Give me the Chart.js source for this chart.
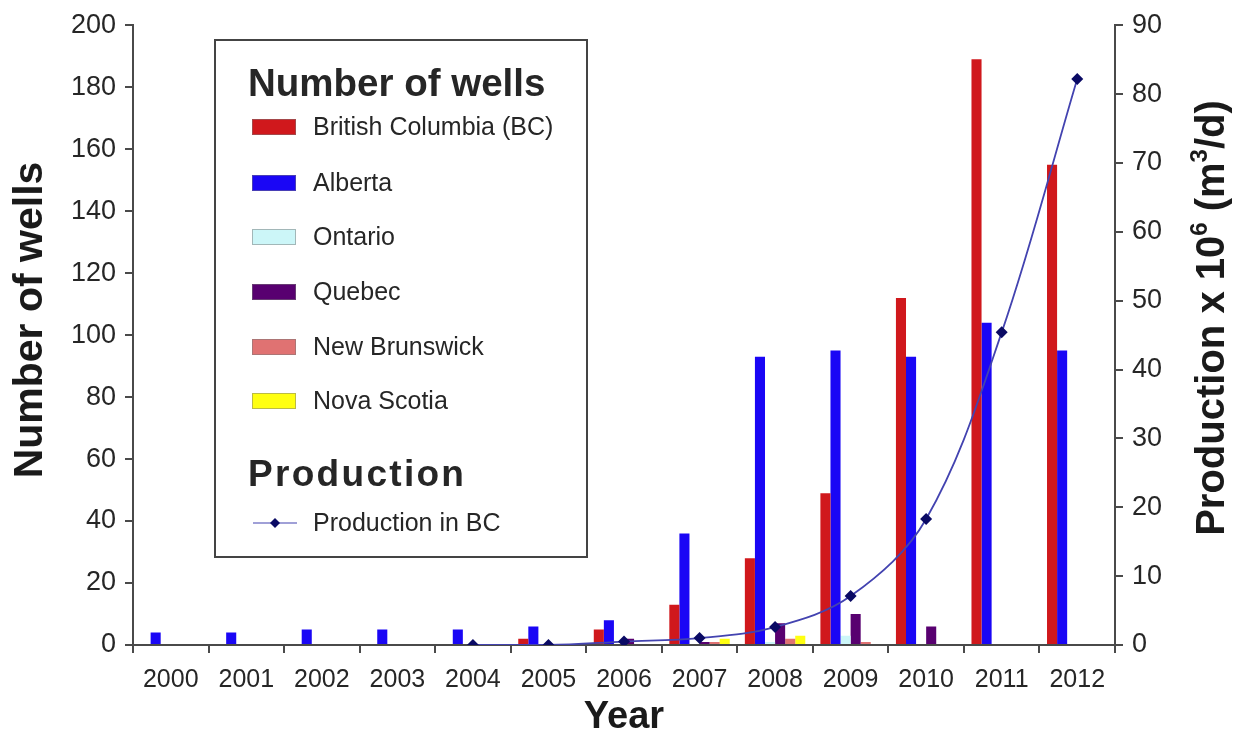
<!DOCTYPE html>
<html>
<head>
<meta charset="utf-8">
<script src="https://cdn.jsdelivr.net/npm/chart.js@4/dist/chart.umd.min.js"></script>
<style>
  html, body { margin: 0; padding: 0; background: #ffffff; }
  #wrap { width: 1238px; height: 740px; }
</style>
</head>
<body>
<div id="wrap"><canvas id="c" width="1238" height="740"></canvas></div>
<script>
// ---- Data ----
const years = ['2000','2001','2002','2003','2004','2005','2006','2007','2008','2009','2010','2011','2012'];
const britishColumbia = [0, 0, 0, 0, 0, 2, 5, 13, 28, 49, 112, 189, 155];
const alberta         = [4, 4, 5, 5, 5, 6, 8, 36, 93, 95, 93, 104, 95];
const ontario         = [0, 0, 0, 0, 0, 0, 0, 0, 1, 3, 0, 0, 0];
const quebec          = [0, 0, 0, 0, 0, 0, 2, 1, 7, 10, 6, 0, 0];
const newBrunswick    = [0, 0, 0, 0, 0, 0, 0, 1, 2, 1, 0, 0, 0];
const novaScotia      = [0, 0, 0, 0, 0, 0, 0, 2, 3, 0, 0, 0, 0];
const productionBC    = [null, null, null, null, 0, 0, 0.5, 1, 2.6, 7.1, 18.3, 45.4, 82.2];
const wellTicks = [0, 20, 40, 60, 80, 100, 120, 140, 160, 180, 200];
const prodTicks = [0, 10, 20, 30, 40, 50, 60, 70, 80, 90];

const titles = { x: 'Year', y: 'Number of wells', y2: ['Production x 10', '6', ' (m', '3', '/d)'] };

const colors = {
  bc: '#d0181c', ab: '#1a06f5', on: '#ccf6f8', qc: '#580070', nb: '#e07272', ns: '#ffff10',
  line: '#4343b0', marker: '#0a0a64'
};

const FONT = "'Liberation Sans', Arial, Helvetica, sans-serif";
const AXIS = '#4a4a4a';
const TEXT = '#262626';

function barSet(label, data, color) {
  return { type: 'bar', label, data, backgroundColor: color, borderColor: color,
           borderWidth: 0, yAxisID: 'y', order: 1,
           categoryPercentage: 0.8, barPercentage: 1.0 };
}

const titlePlugin = {
  id: 'axisTitles',
  afterDraw(chart) {
    const ctx = chart.ctx;
    const a = chart.chartArea;
    ctx.save();
    ctx.fillStyle = '#1a1a1a';
    // x title
    ctx.font = 'bold 38px ' + FONT;
    ctx.textAlign = 'center';
    ctx.textBaseline = 'middle';
    ctx.fillText(titles.x, (a.left + a.right) / 2, 718);
    // left title
    ctx.save();
    ctx.translate(31, 320);
    ctx.rotate(-Math.PI / 2);
    ctx.font = 'bold 41px ' + FONT;
    ctx.fillText(titles.y, 0, 0);
    ctx.restore();
    // right title with superscripts
    ctx.save();
    ctx.translate(1213, 318);
    ctx.rotate(-Math.PI / 2);
    ctx.textAlign = 'left';
    ctx.textBaseline = 'middle';
    const big = 'bold 40px ' + FONT, sup = 'bold 24px ' + FONT;
    const parts = titles.y2.map((t, i) => ({ t, f: i % 2 === 1 ? sup : big, raise: i % 2 === 1 ? -13 : 0 }));
    let total = 0;
    parts.forEach(p => { ctx.font = p.f; p.w = ctx.measureText(p.t).width; total += p.w; });
    let x = -total / 2;
    parts.forEach(p => { ctx.font = p.f; ctx.fillText(p.t, x, p.raise); x += p.w; });
    ctx.restore();
    ctx.restore();
  }
};

const legendPlugin = {
  id: 'boxLegend',
  afterDatasetsDraw(chart) {
    const ctx = chart.ctx;
    ctx.save();
    ctx.fillStyle = '#ffffff';
    ctx.fillRect(215, 40, 372, 517);
    ctx.strokeStyle = '#444444';
    ctx.lineWidth = 2;
    ctx.strokeRect(215, 40, 372, 517);

    ctx.fillStyle = TEXT;
    ctx.textAlign = 'left';
    ctx.textBaseline = 'alphabetic';
    ctx.font = 'bold 38.5px ' + FONT;
    ctx.fillText('Number of wells', 248, 96);

    const rows = [127, 183, 237, 292, 347, 401];
    const bars = chart.data.datasets.filter(d => d.type === 'bar');
    ctx.font = '25px ' + FONT;
    ctx.textBaseline = 'middle';
    bars.forEach((ds, i) => {
      const y = rows[i];
      ctx.fillStyle = ds.backgroundColor;
      ctx.fillRect(252, y - 8, 44, 16);
      ctx.strokeStyle = 'rgba(120,120,120,0.5)';
      ctx.lineWidth = 1;
      ctx.strokeRect(252.5, y - 7.5, 43, 15);
      ctx.fillStyle = TEXT;
      ctx.fillText(ds.label, 313, y + 1);
    });

    ctx.textBaseline = 'alphabetic';
    ctx.font = 'bold 37px ' + FONT;
    try { ctx.letterSpacing = '2.3px'; } catch (e) {}
    ctx.fillText('Production', 248, 486);
    try { ctx.letterSpacing = '0px'; } catch (e) {}

    const line = chart.data.datasets.find(d => d.type === 'line');
    const ly = 523;
    ctx.strokeStyle = line.borderColor;
    ctx.lineWidth = 1.2;
    ctx.beginPath(); ctx.moveTo(253, ly); ctx.lineTo(297, ly); ctx.stroke();
    ctx.fillStyle = line.pointBackgroundColor;
    ctx.beginPath();
    ctx.moveTo(275, ly - 5); ctx.lineTo(280, ly); ctx.lineTo(275, ly + 5); ctx.lineTo(270, ly);
    ctx.closePath(); ctx.fill();
    ctx.fillStyle = TEXT;
    ctx.font = '25px ' + FONT;
    ctx.textBaseline = 'middle';
    ctx.fillText(line.label, 313, ly + 1);
    ctx.restore();
  }
};

const ctxEl = document.getElementById('c');
new Chart(ctxEl, {
  data: {
    labels: years,
    datasets: [
      barSet('British Columbia (BC)', britishColumbia, colors.bc),
      barSet('Alberta', alberta, colors.ab),
      barSet('Ontario', ontario, colors.on),
      barSet('Quebec', quebec, colors.qc),
      barSet('New Brunswick', newBrunswick, colors.nb),
      barSet('Nova Scotia', novaScotia, colors.ns),
      { type: 'line', label: 'Production in BC', data: productionBC, yAxisID: 'y2', order: 0,
        borderColor: colors.line, borderWidth: 1.8, tension: 0.35, spanGaps: false,
        pointStyle: 'rectRot', pointRadius: 6, pointBackgroundColor: colors.marker,
        pointBorderColor: colors.marker, pointBorderWidth: 0, fill: false }
    ]
  },
  options: {
    responsive: false,
    devicePixelRatio: 1,
    animation: false,
    layout: { padding: { top: 25, right: 0, bottom: 0, left: 0 } },
    plugins: { legend: { display: false }, tooltip: { enabled: false } },
    scales: {
      x: {
        type: 'category',
        offset: true,
        grid: { display: true, drawOnChartArea: false, drawTicks: true, tickLength: 8,
                color: AXIS, lineWidth: 2, offset: true },
        border: { display: true, color: AXIS, width: 2 },
        ticks: { color: TEXT, font: { family: FONT, size: 25 }, padding: 12, maxRotation: 0 },
        title: { display: false },
        afterFit(s) { s.height = 95; }
      },
      y: {
        position: 'left', min: 0, max: 200,
        afterBuildTicks(s) { s.ticks = wellTicks.map(v => ({ value: v })); },
        grid: { display: true, drawOnChartArea: false, drawTicks: true, tickLength: 8,
                color: AXIS, lineWidth: 2 },
        border: { display: true, color: AXIS, width: 2 },
        ticks: { color: TEXT, font: { family: FONT, size: 27 }, padding: 9 },
        title: { display: false },
        afterFit(s) { s.width = 133; }
      },
      y2: {
        position: 'right', min: 0, max: 90,
        afterBuildTicks(s) { s.ticks = prodTicks.map(v => ({ value: v })); },
        grid: { display: true, drawOnChartArea: false, drawTicks: true, tickLength: 8,
                color: AXIS, lineWidth: 2 },
        border: { display: true, color: AXIS, width: 2 },
        ticks: { color: TEXT, font: { family: FONT, size: 27 }, padding: 9 },
        title: { display: false },
        afterFit(s) { s.width = 123; }
      }
    }
  },
  plugins: [legendPlugin, titlePlugin]
});
</script>
</body>
</html>
